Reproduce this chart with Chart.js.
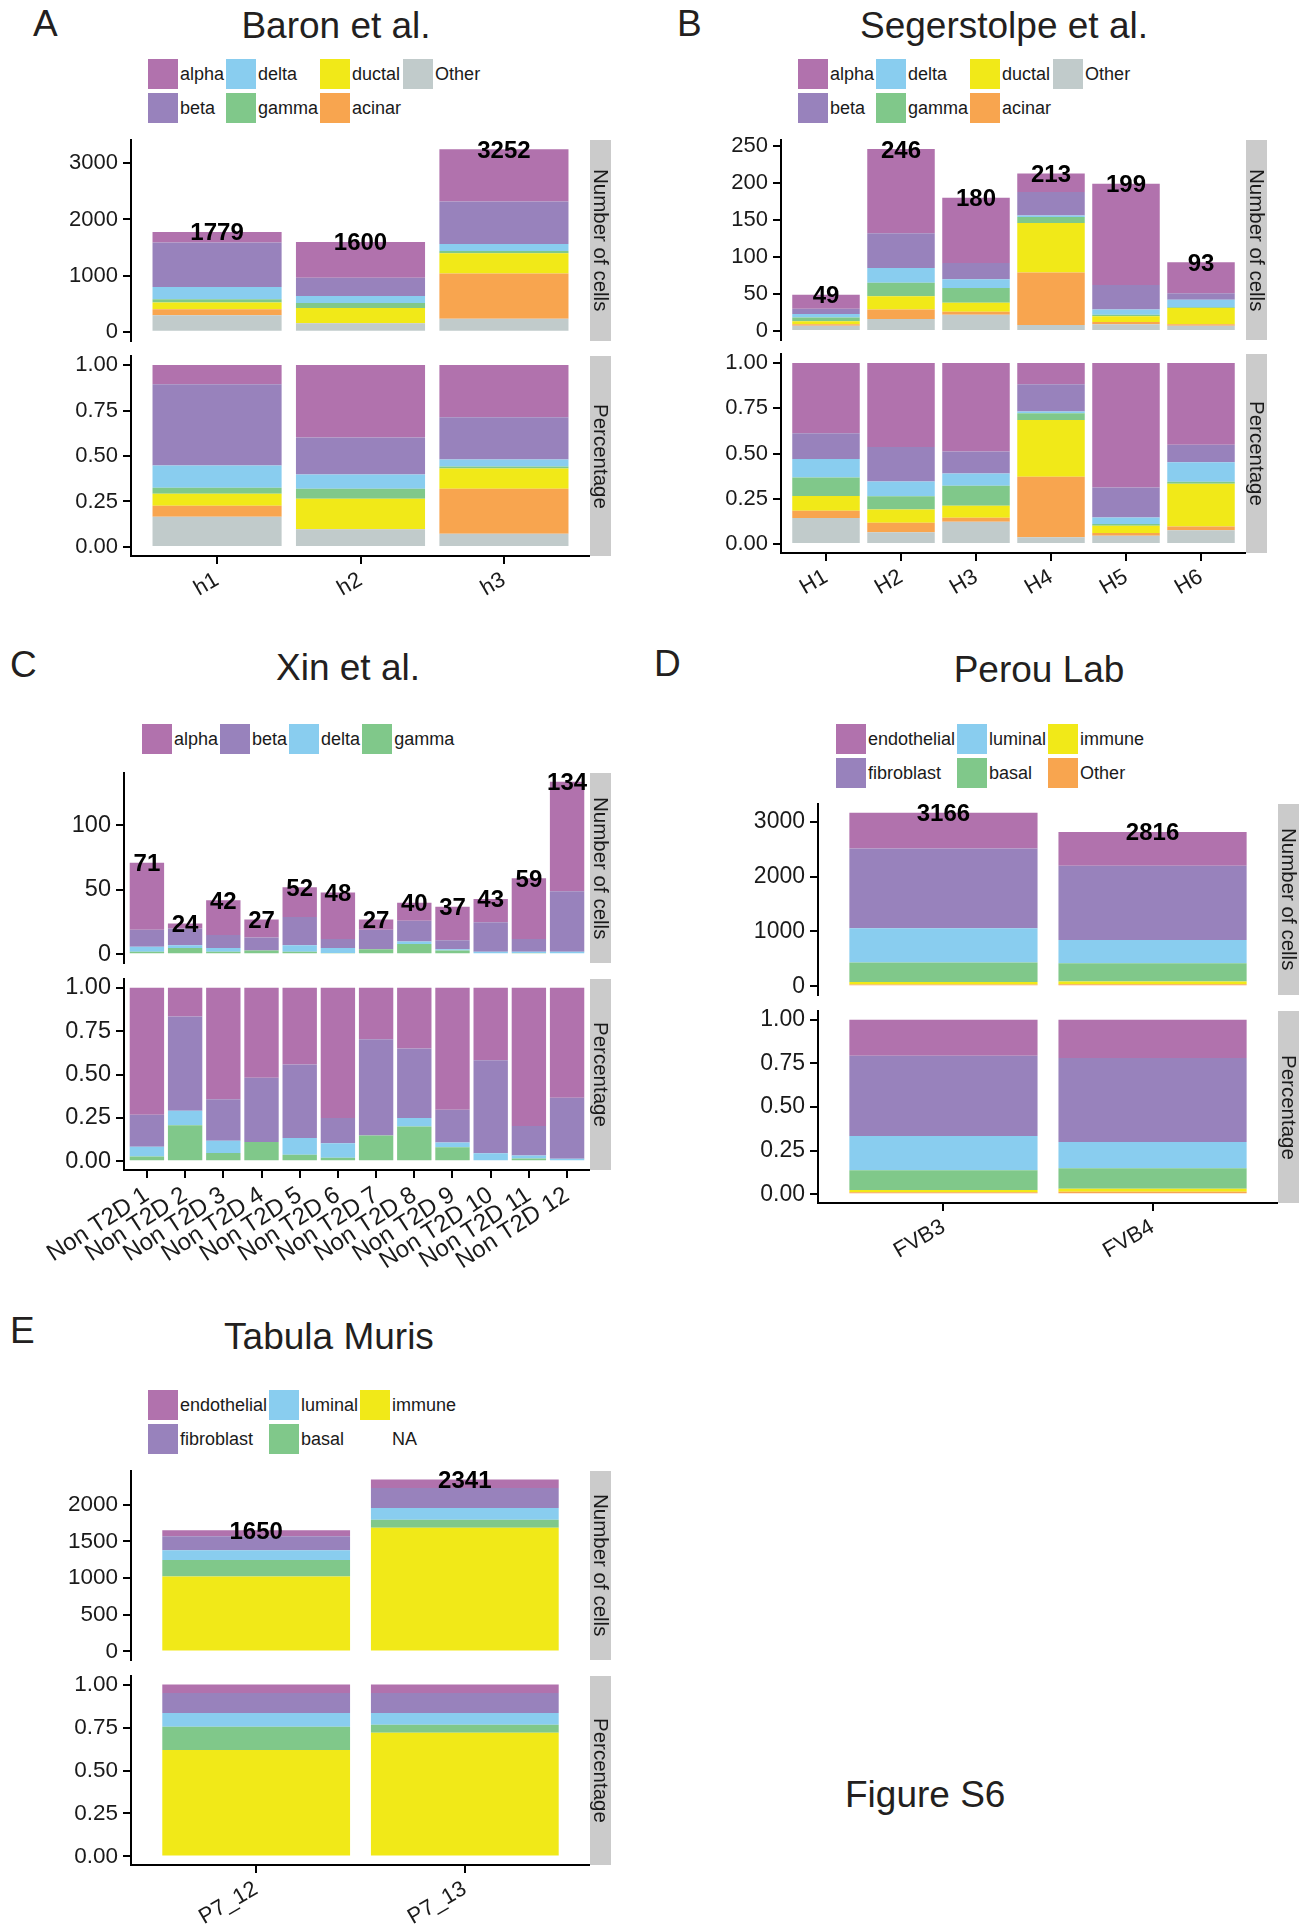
<!DOCTYPE html>
<html lang="en">
<head>
<meta charset="UTF-8">
<title>Figure S6</title>
<script src="https://cdn.jsdelivr.net/npm/chart.js"></script>
<style>
  body { margin: 0; background: #fff; font-family: "Liberation Sans", Arial, Helvetica, sans-serif; color: #231f20; }
  #page { position: relative; width: 1302px; height: 1925px; overflow: hidden; background: #fff; }
  .abs { position: absolute; white-space: nowrap; }
  .legend { display: flex; }
  .col { display: flex; flex-direction: column; gap: 4px; margin-right: 2px; }
  .item { display: flex; align-items: center; height: 30px; font-size: 18px; color: #1a1a1a; }
  .key { width: 30px; height: 30px; margin-right: 2px; flex: none; }
  .strip { position: absolute; background: #cbcbcb; display: flex; align-items: center; justify-content: center; }
  .strip span { writing-mode: vertical-rl; font-size: 20.5px; color: #1a1a1a; white-space: nowrap; }
  canvas { position: absolute; }
</style>
</head>
<body>
<div id="page"></div>
<script>
  // colours used in all panels
  const PINK = '#b172ad', LAV = '#9882bc', SKY = '#89cdef', GREEN = '#80c88a',
        YELLOW = '#f1e918', ORANGE = '#f8a54f', GREY = '#c1cbcb';

  // A: Baron et al.  (rows = cell types, columns = samples)
  const baronSamples = ['h1', 'h2', 'h3'];
  const baronTypes = ['alpha', 'beta', 'delta', 'gamma', 'ductal', 'acinar', 'Other'];
  const baronColors = [PINK, LAV, SKY, GREEN, YELLOW, ORANGE, GREY];
  const baronCounts = [
    [187, 637, 934],   // alpha
    [795, 326, 754],   // beta
    [217, 125, 127],   // delta
    [59, 88, 36],      // gamma
    [118, 267, 361],   // ductal
    [108, 2, 806],     // acinar
    [295, 155, 234]    // Other
  ];

  // B: Segerstolpe et al.
  const segerSamples = ['H1', 'H2', 'H3', 'H4', 'H5', 'H6'];
  const segerTypes = baronTypes;
  const segerColors = baronColors;
  const segerCounts = [
    [19, 114, 88, 25, 137, 42],  // alpha
    [7, 47, 22, 32, 33, 9],      // beta
    [5, 20, 12, 2, 7, 10],       // delta
    [5, 18, 20, 8, 2, 1],        // gamma
    [4, 18, 12, 67, 8, 22],      // ductal
    [2, 13, 4, 71, 3, 2],        // acinar
    [7, 16, 22, 8, 9, 7]         // Other
  ];

  // C: Xin et al.
  const xinSamples = ['Non T2D 1', 'Non T2D 2', 'Non T2D 3', 'Non T2D 4', 'Non T2D 5', 'Non T2D 6',
                      'Non T2D 7', 'Non T2D 8', 'Non T2D 9', 'Non T2D 10', 'Non T2D 11', 'Non T2D 12'];
  const xinTypes = ['alpha', 'beta', 'delta', 'gamma'];
  const xinColors = [PINK, LAV, SKY, GREEN];
  const xinCounts = [
    [52, 4, 27, 14, 23, 36, 8, 14, 26, 18, 47, 85],  // alpha
    [13, 13, 10, 10, 22, 7, 15, 16, 7, 23, 10, 47],  // beta
    [4, 2, 3, 0, 5, 4, 0, 2, 1, 2, 1, 2],            // delta
    [2, 5, 2, 3, 2, 1, 4, 8, 3, 0, 1, 0]             // gamma
  ];

  // D: Perou Lab
  const perouSamples = ['FVB3', 'FVB4'];
  const perouTypes = ['endothelial', 'fibroblast', 'luminal', 'basal', 'immune', 'Other'];
  const perouColors = [PINK, LAV, SKY, GREEN, YELLOW, ORANGE];
  const perouCounts = [
    [652, 619],
    [1457, 1352],
    [623, 426],
    [355, 329],
    [44, 51],
    [35, 39]
  ];

  // E: Tabula Muris (NA only shows in the legend)
  const murisSamples = ['P7_12', 'P7_13'];
  const murisTypes = ['endothelial', 'fibroblast', 'luminal', 'basal', 'immune'];
  const murisColors = [PINK, LAV, SKY, GREEN, YELLOW];
  const murisCounts = [
    [81, 115],
    [191, 271],
    [134, 162],
    [222, 109],
    [1022, 1684]
  ];

  const pctTicks = [0, 0.25, 0.5, 0.75, 1];

  const FONT = '"Liberation Sans", Arial, Helvetica, sans-serif';
  const INK = '#1a1a1a';
  const YW = 120;     // room kept left of each panel for the y tick labels
  const PAD_T = 16;
  const PAD_B = 12;
  const page = document.getElementById('page');

  function addText(str, x, baseline, size, center) {
    const d = document.createElement('div');
    d.className = 'abs';
    d.textContent = str;
    d.style.fontSize = size + 'px';
    d.style.lineHeight = size + 'px';
    d.style.top = (baseline - 0.846 * size) + 'px';
    d.style.left = x + 'px';
    if (center) d.style.transform = 'translateX(-50%)';
    page.appendChild(d);
  }

  function addLegend(x, y, types, colors, rows) {
    const lg = document.createElement('div');
    lg.className = 'legend abs';
    lg.style.left = x + 'px';
    lg.style.top = y + 'px';
    for (let c = 0; c < Math.ceil(types.length / rows); c++) {
      const col = document.createElement('div');
      col.className = 'col';
      for (let r = 0; r < rows; r++) {
        const k = c * rows + r;
        if (k >= types.length) break;
        const it = document.createElement('div');
        it.className = 'item';
        const key = document.createElement('span');
        key.className = 'key';
        key.style.background = colors[k];
        const lab = document.createElement('span');
        lab.textContent = types[k];
        it.append(key, lab);
        col.appendChild(it);
      }
      lg.appendChild(col);
    }
    page.appendChild(lg);
  }

  function addStrip(x, top, bottom, label) {
    const s = document.createElement('div');
    s.className = 'strip';
    s.style.left = x + 'px';
    s.style.top = top + 'px';
    s.style.width = '21px';
    s.style.height = (bottom - top) + 'px';
    const t = document.createElement('span');
    t.textContent = label;
    s.appendChild(t);
    page.appendChild(s);
  }

  function addCanvas(left, top, w, h) {
    const c = document.createElement('canvas');
    c.width = w;
    c.height = h;
    c.style.left = left + 'px';
    c.style.top = top + 'px';
    c.style.width = w + 'px';
    c.style.height = h + 'px';
    page.appendChild(c);
    return c;
  }

  // total written on top of each bar of the count panels
  const totalLabels = {
    id: 'totalLabels',
    afterDatasetsDraw(chart, args, opts) {
      if (!opts || !opts.totals) return;
      const {ctx, scales: {x, y}} = chart;
      ctx.save();
      ctx.font = 'bold 24px ' + FONT;
      ctx.fillStyle = '#000';
      ctx.textAlign = 'center';
      ctx.textBaseline = 'alphabetic';
      opts.totals.forEach((t, i) => {
        ctx.fillText(String(t), x.getPixelForValue(i), y.getPixelForValue(t) + 8.5);
      });
      ctx.restore();
    }
  };

  function chartOptions(p, showX, yMin, yMax, yTicks, fmt, pad, totals) {
    return {
      responsive: false,
      animation: false,
      devicePixelRatio: 1,
      events: [],
      layout: {padding: {left: 0, right: 0, top: pad.top, bottom: pad.bottom}},
      plugins: {
        legend: {display: false},
        tooltip: {enabled: false},
        totalLabels: {totals: totals}
      },
      scales: {
        x: {
          type: 'linear',
          display: showX,
          min: -0.6,
          max: p.samples.length - 0.4,
          offset: false,
          stacked: true,
          afterBuildTicks: s => { s.ticks = p.samples.map((_, i) => ({value: i})); },
          afterFit: s => {
            if (s.options.display) s.height = p.xAxisH;
            s.paddingLeft = 0;
            s.paddingRight = 0;
          },
          border: {display: true, color: '#000', width: 2},
          grid: {offset: false, drawOnChartArea: false, drawTicks: true, tickLength: 8, color: '#000', lineWidth: 2},
          ticks: {
            autoSkip: false, minRotation: p.rot, maxRotation: p.rot, padding: 3,
            color: INK, font: {family: FONT, size: p.xFont},
            callback: v => p.samples[Math.round(v)]
          }
        },
        y: {
          min: yMin,
          max: yMax,
          stacked: true,
          afterBuildTicks: s => { s.ticks = yTicks.map(v => ({value: v})); },
          afterFit: s => { s.width = YW; s.paddingTop = 0; s.paddingBottom = 0; },
          border: {display: true, color: '#000', width: 2},
          grid: {drawOnChartArea: false, drawTicks: true, tickLength: 8, color: '#000', lineWidth: 2},
          ticks: {padding: 5, color: INK, font: {family: FONT, size: p.tickFont}, callback: v => fmt(v)}
        }
      }
    };
  }

  function drawPanel(p) {
    const totals = p.samples.map((_, i) => p.counts.reduce((s, row) => s + row[i], 0));
    const top = Math.max(...totals);
    const stackOrder = p.counts.map((_, k) => k).reverse();   // last type sits at the bottom
    const datasets = pct => stackOrder.map(k => ({
      label: p.types[k],
      data: p.counts[k].map((v, i) => ({x: i, y: pct ? v / totals[i] : v})),
      backgroundColor: p.colors[k],
      borderWidth: 0,
      barPercentage: 0.9,
      categoryPercentage: 1
    }));
    const w = YW + p.right - p.left;

    const c1 = addCanvas(p.left - YW, p.cTop - PAD_T, w, PAD_T + p.cBottom - p.cTop + PAD_B);
    new Chart(c1, {
      type: 'bar',
      data: {datasets: datasets(false)},
      options: chartOptions(p, false, -0.05 * top, 1.05 * top, p.countTicks, v => String(v),
                            {top: PAD_T, bottom: PAD_B}, totals),
      plugins: [totalLabels]
    });

    const c2 = addCanvas(p.left - YW, p.pTop - PAD_T, w, PAD_T + p.pBottom - p.pTop + p.xAxisH);
    new Chart(c2, {
      type: 'bar',
      data: {datasets: datasets(true)},
      options: chartOptions(p, true, -0.05, 1.05, pctTicks, v => v.toFixed(2),
                            {top: PAD_T, bottom: 0}, null)
    });

    addStrip(p.right, p.cTop, p.cBottom, 'Number of cells');
    addStrip(p.right, p.pTop, p.pBottom, 'Percentage');
  }

  // panel letters and titles
  addText('A', 33, 36, 37);
  addText('Baron et al.', 336, 38, 37, true);
  addText('B', 677, 36, 37);
  addText('Segerstolpe et al.', 1004, 38, 37, true);
  addText('C', 10, 677, 37);
  addText('Xin et al.', 348, 680, 37, true);
  addText('D', 654, 676, 37);
  addText('Perou Lab', 1039, 682, 37, true);
  addText('E', 10, 1343, 37);
  addText('Tabula Muris', 329, 1349, 37, true);
  addText('Figure S6', 845, 1807, 37);

  addLegend(148, 59, baronTypes, baronColors, 2);
  addLegend(798, 59, segerTypes, segerColors, 2);
  addLegend(142, 724, xinTypes, xinColors, 1);
  addLegend(836, 724, perouTypes, perouColors, 2);
  addLegend(148, 1390, murisTypes.concat(['NA']), murisColors.concat(['transparent']), 2);

  drawPanel({samples: baronSamples, types: baronTypes, colors: baronColors, counts: baronCounts,
             left: 131, right: 590, cTop: 140, cBottom: 341, pTop: 356, pBottom: 556,
             countTicks: [0, 1000, 2000, 3000], tickFont: 22, xFont: 22, rot: 30, xAxisH: 60});
  drawPanel({samples: segerSamples, types: segerTypes, colors: segerColors, counts: segerCounts,
             left: 781, right: 1246, cTop: 140, cBottom: 340, pTop: 354, pBottom: 553,
             countTicks: [0, 50, 100, 150, 200, 250], tickFont: 22, xFont: 22, rot: 30, xAxisH: 60});
  drawPanel({samples: xinSamples, types: xinTypes, colors: xinColors, counts: xinCounts,
             left: 124, right: 590, cTop: 773, cBottom: 963, pTop: 979, pBottom: 1170,
             countTicks: [0, 50, 100], tickFont: 23.5, xFont: 24, rot: 33, xAxisH: 110});
  drawPanel({samples: perouSamples, types: perouTypes, colors: perouColors, counts: perouCounts,
             left: 818, right: 1278, cTop: 804, cBottom: 995, pTop: 1011, pBottom: 1203,
             countTicks: [0, 1000, 2000, 3000], tickFont: 23, xFont: 22, rot: 30, xAxisH: 65});
  drawPanel({samples: murisSamples, types: murisTypes, colors: murisColors, counts: murisCounts,
             left: 131, right: 590, cTop: 1471, cBottom: 1660, pTop: 1676, pBottom: 1865,
             countTicks: [0, 500, 1000, 1500, 2000], tickFont: 22.5, xFont: 22, rot: 30, xAxisH: 60});
</script>
</body>
</html>
